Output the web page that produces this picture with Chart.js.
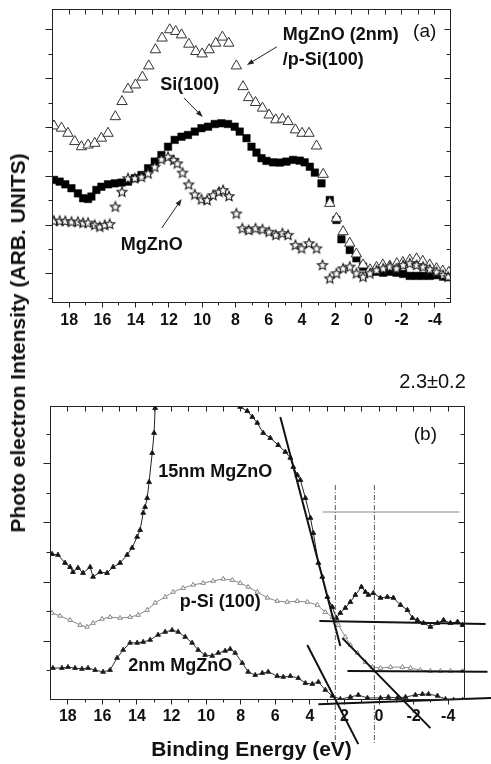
<!DOCTYPE html>
<html>
<head>
<meta charset="utf-8">
<script src="https://cdn.jsdelivr.net/npm/chart.js@4.4.1/dist/chart.umd.min.js"></script>
<style>
  html, body { margin: 0; padding: 0; background: #fff; }
  #wrap { position: relative; width: 491px; height: 764px; overflow: hidden; }
  #ca { position: absolute; left: 0; top: 0; }
  #cb { position: absolute; left: 0; top: 345px; }
  #ytitle { position: absolute; left: 18px; top: 343px; transform: translate(-50%, -50%) rotate(-90deg);
    font: bold 21px "Liberation Sans", Arial, sans-serif; white-space: nowrap; color: #111; }
</style>
</head>
<body>
<div id="wrap">
  <canvas id="ca" width="491" height="345"></canvas>
  <canvas id="cb" width="491" height="419"></canvas>
  <div id="ytitle">Photo electron Intensity (ARB. UNITS)</div>
</div>
<script>
// ---------------- DATA : panel (a) ----------------
const xTickLabels = ['18', '16', '14', '12', '10', '8', '6', '4', '2', '0', '-2', '-4'];
const xTickValues = [18, 16, 14, 12, 10, 8, 6, 4, 2, 0, -2, -4];

// MgZnO (2nm)/p-Si(100) – open triangles
const triE = [18.88,18.43,18.04,17.63,17.23,16.83,16.43,16.03,15.63,15.19,14.79,14.43,13.98,13.56,13.18,12.78,12.38,11.92,11.56,11.21,10.77,10.35,9.97,9.55,9.15,8.75,8.37,7.91,7.51,7.17,6.76,6.34,5.94,5.54,5.14,4.80,4.36,3.96,3.54,3.09,2.69,2.29,1.89,1.49,1.09,0.69,0.29,-0.13,-0.52,-0.9,-1.32,-1.74,-2.1,-2.52,-2.93,-3.3,-3.72,-4.13,-4.5,-4.87];
const triV = [7.04,6.95,6.74,6.40,6.19,6.26,6.33,6.54,6.74,7.42,8.04,8.55,8.72,9.04,9.50,10.16,10.64,10.98,10.91,10.77,10.39,10.09,9.99,10.16,10.43,10.68,10.43,9.50,8.65,8.20,8.00,7.77,7.49,7.29,7.32,7.22,6.88,6.74,6.74,6.22,5.06,3.87,3.26,2.71,2.24,1.80,1.35,1.15,1.25,1.35,1.3,1.4,1.45,1.55,1.6,1.5,1.35,1.2,1.1,1.05];

// Si(100) – filled squares
const sqE = [18.88,18.54,18.20,17.83,17.44,17.13,16.83,16.63,16.33,16.03,15.63,15.23,14.82,14.43,14.02,13.62,13.22,12.82,12.42,12.02,11.62,11.21,10.82,10.41,10.01,9.61,9.21,8.81,8.41,8.01,7.71,7.30,7.00,6.70,6.40,6.10,5.70,5.30,4.90,4.50,4.10,3.80,3.49,3.19,2.79,2.29,1.89,1.59,1.09,0.69,0.29,-0.12,-0.52,-0.92,-1.32,-1.72,-2.12,-2.52,-2.93,-3.32,-3.73,-4.13,-4.53,-4.83];
const sqV = [4.83,4.76,4.65,4.49,4.28,4.08,4.05,4.15,4.42,4.55,4.65,4.69,4.72,4.76,4.90,5.03,5.31,5.58,5.85,6.19,6.47,6.60,6.67,6.81,6.95,7.01,7.12,7.15,7.12,7.01,6.81,6.54,6.19,5.95,5.72,5.61,5.55,5.54,5.58,5.65,5.62,5.55,5.37,5.13,4.69,4.01,3.19,2.40,1.96,1.62,1.28,1.07,1.07,1.03,1.07,1.03,0.98,0.90,0.90,0.90,0.90,0.93,0.87,0.85];

// MgZnO – open stars
const starE = [18.88,18.54,18.20,17.83,17.44,17.13,16.83,16.43,16.13,15.83,15.53,15.19,14.79,14.43,14.02,13.62,13.22,12.82,12.42,12.02,11.68,11.46,11.15,10.78,10.41,10.01,9.67,9.31,8.95,8.71,8.35,7.91,7.55,7.17,6.76,6.34,5.94,5.54,5.14,4.80,4.36,3.99,3.54,3.09,2.73,2.29,1.89,1.49,1.09,0.69,0.29,-0.12,-0.52,-0.92,-1.32,-1.72,-2.12,-2.52,-2.93,-3.32,-3.73,-4.13,-4.53,-4.83];
const starV = [3.16,3.16,3.15,3.12,3.12,3.08,3.08,2.99,2.92,2.99,3.03,3.74,4.35,4.90,4.90,4.96,5.10,5.37,5.68,5.78,5.65,5.51,5.13,4.65,4.24,4.04,4.01,4.21,4.35,4.42,4.17,3.46,2.85,2.78,2.85,2.81,2.71,2.58,2.65,2.58,2.17,2.03,2.24,2.03,1.35,0.80,1.01,1.21,1.28,1.01,0.87,1.01,1.14,1.21,1.28,1.21,1.35,1.42,1.35,1.28,1.17,1.07,0.94,0.87];

// ---------------- DATA : panel (b) ----------------
// 15nm MgZnO
const n15E = [18.88,18.54,18.13,17.84,17.67,17.38,17.09,16.68,16.51,16.10,15.70,15.35,14.95,14.54,14.25,13.96,13.79,13.61,13.50,13.38,13.27,13.09,12.98,12.92,12.75,11.6,10.2,8.6,8.00,7.59,7.30,7.01,6.67,6.26,5.80,5.39,5.10,4.93,4.70,4.52,4.23,3.94,3.77,3.48,3.25,2.96,2.67,2.44,2.21,1.92,1.63,1.34,0.99,0.76,0.59,0.30,-0.11,-0.51,-0.86,-1.27,-1.67,-1.96,-2.25,-2.60,-3.00,-3.41,-3.76,-4.16,-4.57,-4.86];
const n15V = [4.93,4.90,4.63,4.49,4.32,4.46,4.29,4.49,4.16,4.32,4.29,4.49,4.63,4.90,5.14,5.51,5.74,6.32,6.52,6.82,7.36,8.34,9.02,9.86,11.15,14.5,15.0,11.2,9.90,9.76,9.56,9.36,9.02,8.85,8.61,8.38,8.18,7.87,7.60,7.43,6.82,6.15,5.64,4.63,4.16,3.48,3.14,2.77,2.94,3.11,3.31,3.55,3.82,3.65,3.55,3.61,3.45,3.48,3.45,3.21,3.04,2.77,2.70,2.60,2.47,2.60,2.70,2.60,2.64,2.53];
// p-Si (100)
const pSiE = [18.88,18.42,17.84,17.26,16.86,16.51,15.99,15.53,14.95,14.37,13.90,13.38,12.92,12.34,11.88,11.30,10.72,10.14,9.56,8.98,8.46,8.00,7.54,7.01,6.43,5.86,5.28,4.70,4.12,3.54,3.08,2.67,2.32,1.92,1.63,1.22,0.76,0.36,-0.11,-0.69,-1.38,-1.85,-2.42,-3.00,-3.58,-4.16,-4.86];
const pSiV = [2.94,2.84,2.70,2.53,2.47,2.60,2.74,2.80,2.77,2.80,2.87,3.04,3.28,3.48,3.65,3.78,3.89,3.95,4.02,4.09,4.05,3.95,3.82,3.65,3.45,3.34,3.31,3.34,3.31,3.21,2.97,2.80,2.53,2.13,1.86,1.59,1.28,1.11,1.08,1.11,1.11,1.08,1.01,0.98,0.98,0.98,0.98];
// 2nm MgZnO
const n2E = [18.83,18.31,17.96,17.55,17.15,16.80,16.39,15.93,15.53,15.12,14.77,14.37,13.96,13.61,13.21,12.75,12.34,11.94,11.59,11.18,10.78,10.43,10.03,9.62,9.27,8.87,8.58,8.29,7.88,7.54,7.13,6.72,6.38,5.86,5.51,5.10,4.64,4.23,3.83,3.48,3.08,2.67,2.21,1.63,1.17,0.64,-0.11,-0.57,-1.09,-1.56,-2.13,-2.54,-2.89,-3.41,-3.87,-4.34,-4.86];
const n2V = [1.08,1.08,1.11,1.08,1.05,1.08,1.01,0.95,1.01,1.42,1.69,1.93,1.93,1.96,2.03,2.20,2.30,2.36,2.30,2.13,1.93,1.69,1.52,1.49,1.59,1.66,1.72,1.59,1.25,0.95,0.84,0.91,0.95,0.81,0.78,0.81,0.74,0.57,0.54,0.61,0.34,0.14,0.03,0.10,0.17,0.07,0.07,0.10,0.07,0.10,0.17,0.20,0.20,0.14,0.03,0.00,0.00];
// linear extrapolation lines (onset fits)
const fitLinesE = [[5.68, 2.21], [3.42, -6.19], [4.12, 1.17], [2.09, -3.00], [1.80, -6.30], [3.48, -6.59]];
const fitLinesV = [[9.56, 1.82], [2.67, 2.57], [1.86, -1.49], [2.09, -0.95], [0.98, 0.95], [-0.14, 0.07]];
// vertical markers (band edges) and level line
const markerE = [2.50, 0.24];
const markerV = [7.26, -1.52];
const levelE = [3.25, -4.68];
const levelV = [6.35, 6.35];

// ---------------- helpers ----------------
const FONT = '"Liberation Sans", Arial, Helvetica, sans-serif';
const pts = (xs, ys) => xs.map((x, i) => ({x, y: ys[i]}));

function starImg(r) {
  const s = Math.ceil(2 * r + 3);
  const c = document.createElement('canvas');
  c.width = s; c.height = s;
  const g = c.getContext('2d');
  g.beginPath();
  for (let i = 0; i < 10; i++) {
    const rr = i % 2 ? r * 0.45 : r;
    const ang = -Math.PI / 2 + i * Math.PI / 5;
    g.lineTo(s / 2 + rr * Math.cos(ang), s / 2 + 0.5 + rr * Math.sin(ang));
  }
  g.closePath();
  g.fillStyle = '#fff'; g.fill();
  g.strokeStyle = '#1a1a1a'; g.lineWidth = 1.1; g.stroke();
  return c;
}

function makeFrame(cfg) {
  return {
    id: 'frame_' + cfg.name,
    afterDraw(chart) {
      const {ctx, chartArea: a, scales: {x, y}} = chart;
      ctx.save();
      ctx.strokeStyle = '#222';
      ctx.lineWidth = 1;
      const L = Math.round(a.left) + 0.5, R = Math.round(a.right) - 0.5;
      const T = Math.round(a.top) + 0.5, B = Math.round(a.bottom) - 0.5;
      ctx.strokeRect(L, T, R - L, B - T);
      ctx.beginPath();
      for (let e = -4; e <= 18; e++) {
        const px = Math.round(x.getPixelForValue(e)) + 0.5;
        const major = e % 2 === 0;
        ctx.moveTo(px, B); ctx.lineTo(px, B + (major ? 5 : 3));
        ctx.moveTo(px, T); ctx.lineTo(px, T + 5);
      }
      cfg.yTicks.forEach(v => {
        const py = Math.round(y.getPixelForValue(v)) + 0.5;
        const major = cfg.yMajor.includes(v);
        ctx.moveTo(L, py); ctx.lineTo(L - (major ? 7 : 4), py);
        ctx.moveTo(R, py); ctx.lineTo(R - (major ? 6 : 4), py);
      });
      ctx.stroke();
      // tick labels
      ctx.fillStyle = '#111';
      ctx.font = 'bold 16px ' + FONT;
      ctx.textAlign = 'center';
      ctx.textBaseline = 'middle';
      xTickValues.forEach((v, i) => {
        ctx.fillText(xTickLabels[i], x.getPixelForValue(v) + 0.5, B + cfg.labelGap);
      });
      // arrows
      (cfg.arrows || []).forEach(ar => {
        const x0 = x.getPixelForValue(ar[0]), y0 = y.getPixelForValue(ar[1]);
        const x1 = x.getPixelForValue(ar[2]), y1 = y.getPixelForValue(ar[3]);
        const ang = Math.atan2(y1 - y0, x1 - x0);
        ctx.beginPath();
        ctx.moveTo(x0, y0); ctx.lineTo(x1 - 4 * Math.cos(ang), y1 - 4 * Math.sin(ang));
        ctx.strokeStyle = '#222'; ctx.lineWidth = 1; ctx.stroke();
        ctx.beginPath();
        ctx.moveTo(x1, y1);
        ctx.lineTo(x1 - 7 * Math.cos(ang) + 2.5 * Math.sin(ang), y1 - 7 * Math.sin(ang) - 2.5 * Math.cos(ang));
        ctx.lineTo(x1 - 7 * Math.cos(ang) - 2.5 * Math.sin(ang), y1 - 7 * Math.sin(ang) + 2.5 * Math.cos(ang));
        ctx.closePath(); ctx.fillStyle = '#222'; ctx.fill();
      });
      // text annotations
      (cfg.texts || []).forEach(t => {
        ctx.font = t.font + ' ' + FONT;
        ctx.fillStyle = '#111';
        ctx.textAlign = t.align || 'center';
        ctx.textBaseline = 'middle';
        ctx.fillText(t.text, x.getPixelForValue(t.e), y.getPixelForValue(t.v));
      });
      if (cfg.xTitle) {
        ctx.font = 'bold 21px ' + FONT;
        ctx.textAlign = 'center';
        ctx.fillStyle = '#111';
        ctx.fillText(cfg.xTitle, (a.left + a.right) / 2 - 6, B + 51);
      }
      ctx.restore();
    }
  };
}

const baseOptions = (yMin, yMax, padding) => ({
  responsive: false,
  animation: false,
  devicePixelRatio: 1,
  layout: {padding},
  plugins: {legend: {display: false}, tooltip: {enabled: false}},
  scales: {
    x: {type: 'linear', min: -5, max: 19, reverse: true, display: false},
    y: {type: 'linear', min: yMin, max: yMax, display: false}
  }
});

// ---------------- chart (a) ----------------
new Chart(document.getElementById('ca'), {
  type: 'scatter',
  data: {
    datasets: [
      {label: 'MgZnO', data: pts(starE, starV), pointStyle: starImg(5.2), pointRadius: 5, order: 0},
      {label: 'MgZnO (2nm)/p-Si(100)', data: pts(triE, triV), pointStyle: 'triangle', pointRadius: 6,
        backgroundColor: '#fff', borderColor: '#333', borderWidth: 1, order: 1},
      {label: 'Si(100)', data: pts(sqE, sqV), pointStyle: 'rect', pointRadius: 5.3,
        backgroundColor: '#000', borderColor: '#000', borderWidth: 0.5, order: 2}
    ]
  },
  options: baseOptions(-0.21, 11.83, {left: 52, right: 40, top: 9, bottom: 42}),
  plugins: [makeFrame({
    name: 'a',
    yTicks: [0, 1, 2, 3, 4, 5, 6, 7, 8, 9, 10, 11],
    yMajor: [1, 3, 5, 7, 9, 11],
    labelGap: 18,
    arrows: [[5.48, 10.28, 7.28, 9.54], [11.07, 8.19, 9.93, 7.41], [12.40, 2.86, 11.20, 4.05]],
    texts: [
      {text: 'MgZnO (2nm)', e: 5.12, v: 10.77, font: 'bold 18px', align: 'left'},
      {text: '/p-Si(100)', e: 5.12, v: 9.75, font: 'bold 18px', align: 'left'},
      {text: 'Si(100)', e: 10.71, v: 8.72, font: 'bold 18px'},
      {text: 'MgZnO', e: 13.0, v: 2.17, font: 'bold 18px'},
      {text: '(a)', e: -3.42, v: 10.9, font: '19px'}
    ]
  })]
});

// ---------------- chart (b) ----------------
const fitSets = fitLinesE.map((xs, i) => ({
  data: pts(xs, fitLinesV[i]), showLine: true, pointRadius: 0, borderColor: '#111', borderWidth: 2,
  clip: false, order: 0
}));
const markerSets = markerE.map(e => ({
  data: pts([e, e], markerV), showLine: true, pointRadius: 0, borderColor: '#555', borderWidth: 1,
  borderDash: [5, 2, 1, 2], clip: false, order: 0
}));

new Chart(document.getElementById('cb'), {
  type: 'scatter',
  data: {
    datasets: [
      ...fitSets,
      ...markerSets,
      {data: pts(levelE, levelV), showLine: true, pointRadius: 0, borderColor: '#888', borderWidth: 1.2, order: 0},
      {label: '15nm MgZnO', data: pts(n15E, n15V), showLine: true, pointStyle: 'triangle', pointRadius: 2.8,
        backgroundColor: '#111', borderColor: '#222', borderWidth: 1, order: 1},
      {label: 'p-Si (100)', data: pts(pSiE, pSiV), showLine: true, pointStyle: 'triangle', pointRadius: 2.6,
        backgroundColor: '#fff', borderColor: '#888', borderWidth: 1, order: 2},
      {label: '2nm MgZnO', data: pts(n2E, n2V), showLine: true, pointStyle: 'triangle', pointRadius: 2.8,
        backgroundColor: '#111', borderColor: '#333', borderWidth: 1, order: 1}
    ]
  },
  options: baseOptions(0, 9.93, {left: 50, right: 26, top: 61, bottom: 64}),
  plugins: [makeFrame({
    name: 'b',
    yTicks: [1, 2, 3, 4, 5, 6, 7, 8, 9],
    yMajor: [2, 4, 6, 8],
    labelGap: 17,
    xTitle: 'Binding Energy (eV)',
    texts: [
      {text: '15nm MgZnO', e: 9.45, v: 7.70, font: 'bold 18px'},
      {text: 'p-Si (100)', e: 9.16, v: 3.31, font: 'bold 18px'},
      {text: '2nm MgZnO', e: 11.47, v: 1.15, font: 'bold 18px'},
      {text: '(b)', e: -2.71, v: 8.95, font: '19px'},
      {text: '2.3\u00b10.2', e: -3.12, v: 10.74, font: '20px'}
    ]
  })]
});
</script>
</body>
</html>
